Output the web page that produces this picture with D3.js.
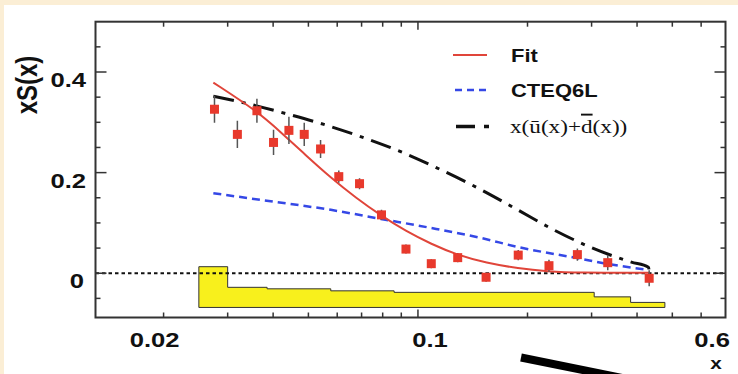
<!DOCTYPE html>
<html>
<head>
<meta charset="utf-8">
<script src="https://cdn.jsdelivr.net/npm/d3@7"></script>
<style>
  html, body { margin: 0; padding: 0; background: #fbeed5; }
  svg { display: block; }
</style>
</head>
<body>
<svg id="chart" width="738" height="374"></svg>
<script>
// Measured points (red squares) with stat errors
const ptX   = [0.0276, 0.0319, 0.0361, 0.0401, 0.0442, 0.0487, 0.0540, 0.0606, 0.0691, 0.0794, 0.0927, 0.1088, 0.1286, 0.1539, 0.1886, 0.2291, 0.2742, 0.3323, 0.4319];
const ptY   = [0.326, 0.276, 0.323, 0.260, 0.284, 0.276, 0.247, 0.192, 0.178, 0.116, 0.048, 0.019, 0.031, -0.008, 0.036, 0.015, 0.037, 0.021, -0.010];
const ptErr = [0.027, 0.027, 0.024, 0.025, 0.027, 0.023, 0.018, 0.012, 0.011, 0.010, 0.009, 0.009, 0.009, 0.009, 0.010, 0.012, 0.012, 0.015, 0.016];

// Fit curve
const fitX = [0.0274, 0.0360, 0.0419, 0.0491, 0.0576, 0.0675, 0.0794, 0.0925, 0.1088, 0.1286, 0.1539, 0.1886, 0.228, 0.274, 0.432];
const fitY = [0.379, 0.323, 0.281, 0.235, 0.190, 0.150, 0.114, 0.084, 0.058, 0.036, 0.0205, 0.0095, 0.0036, 0.001, 0.001];

// CTEQ6L
const cteqX = [0.0274, 0.0394, 0.0576, 0.0791, 0.1086, 0.1491, 0.1886, 0.2742, 0.332, 0.430];
const cteqY = [0.159, 0.143, 0.126, 0.108, 0.090, 0.070, 0.052, 0.030, 0.0185, 0.0066];

// x(ubar + dbar)
const sbarX = [0.0274, 0.0332, 0.0430, 0.0556, 0.0712, 0.0915, 0.1169, 0.1482, 0.1870, 0.2365, 0.2995, 0.3859, 0.4299, 0.432];
const sbarY = [0.352, 0.339, 0.318, 0.295, 0.269, 0.239, 0.204, 0.167, 0.127, 0.086, 0.051, 0.022, 0.012, 0.004];

// systematic error band (histogram)
const sysEdges = [0.025, 0.030, 0.0385, 0.0576, 0.086, 0.305, 0.384, 0.477];
const sysTop   = [0.013, -0.028, -0.031, -0.035, -0.038, -0.047, -0.058];
const sysBase  = -0.068;

// axes
const xLabels = [0.02, 0.1, 0.6];
const xMinor  = [0.02, 0.03, 0.04, 0.05, 0.06, 0.07, 0.08, 0.09, 0.1, 0.2, 0.3, 0.4, 0.5, 0.6];
const yLabels = [0, 0.2, 0.4];
const yMinor  = [-0.05, 0, 0.05, 0.1, 0.15, 0.2, 0.25, 0.3, 0.35, 0.4, 0.45];

const legendItems = ['Fit', 'CTEQ6L', 'sbar'];

const SANS = '"Liberation Sans", Arial, Helvetica, sans-serif';
const SERIF = '"Liberation Serif", "Times New Roman", serif';
const STRETCH = 1.22; // the source picture is stretched horizontally

const svg = d3.select('#chart');
const frame = { left: 95.5, right: 725.5, top: 21.7, bottom: 317.5 };

svg.append('rect').attr('x', 4).attr('y', 5).attr('width', 740).attr('height', 380).attr('fill', '#fff');

const x = d3.scaleLog().domain([0.013, 0.7]).range([frame.left, frame.right]);
const y = d3.scaleLinear().domain([-0.088, 0.5]).range([frame.bottom, frame.top]);

function stretchText(sel, px, py, extra) {
  return sel.attr('transform', `translate(${px},${py}) scale(${STRETCH},1)` + (extra || ''));
}

// clip for plot content
svg.append('clipPath').attr('id', 'clip').append('rect')
  .attr('x', frame.left).attr('y', frame.top)
  .attr('width', frame.right - frame.left).attr('height', frame.bottom - frame.top);
const plot = svg.append('g').attr('clip-path', 'url(#clip)');

// systematic band
const sysPts = [[sysEdges[0], sysBase]];
sysTop.forEach((t, i) => { sysPts.push([sysEdges[i], t]); sysPts.push([sysEdges[i + 1], t]); });
sysPts.push([sysEdges[sysEdges.length - 1], sysBase]);
plot.append('path')
  .attr('d', d3.line().x(d => x(d[0])).y(d => y(d[1]))(sysPts) + 'Z')
  .attr('fill', '#f8f01c').attr('stroke', '#333').attr('stroke-width', 1);

// zero line
plot.append('line')
  .attr('x1', frame.left).attr('x2', frame.right).attr('y1', y(0)).attr('y2', y(0))
  .attr('stroke', '#111').attr('stroke-width', 2.2).attr('stroke-dasharray', '3.5,3');

const line = d3.line().x(d => x(d[0])).y(d => y(d[1])).curve(d3.curveBasis);
const lineM = d3.line().x(d => x(d[0])).y(d => y(d[1])).curve(d3.curveMonotoneX);

// dash-dot x(ubar+dbar)
plot.append('path').attr('d', lineM(d3.zip(sbarX, sbarY)))
  .attr('fill', 'none').attr('stroke', '#111').attr('stroke-width', 3)
  .attr('stroke-dasharray', '21,8,4,8');

// CTEQ6L
plot.append('path').attr('d', lineM(d3.zip(cteqX, cteqY)))
  .attr('fill', 'none').attr('stroke', '#3548e6').attr('stroke-width', 2.5)
  .attr('stroke-dasharray', '8,5');

// fit
plot.append('path').attr('d', line(d3.zip(fitX, fitY)))
  .attr('fill', 'none').attr('stroke', '#e0453a').attr('stroke-width', 2);

// data points
const pts = d3.zip(ptX, ptY, ptErr);
plot.selectAll('line.err').data(pts).enter().append('line')
  .attr('class', 'err')
  .attr('x1', d => x(d[0])).attr('x2', d => x(d[0]))
  .attr('y1', d => y(d[1] + d[2])).attr('y2', d => y(d[1] - d[2]))
  .attr('stroke', '#555').attr('stroke-width', 1.5);
plot.selectAll('rect.pt').data(pts).enter().append('rect')
  .attr('class', 'pt')
  .attr('x', d => x(d[0]) - 4.5).attr('y', d => y(d[1]) - 4.5)
  .attr('width', 9).attr('height', 9)
  .attr('fill', '#e8392c');

// frame and ticks
const axis = svg.append('g').attr('stroke', '#333').attr('stroke-width', 1.5);
axis.append('rect')
  .attr('x', frame.left).attr('y', frame.top)
  .attr('width', frame.right - frame.left).attr('height', frame.bottom - frame.top)
  .attr('fill', 'none').attr('stroke-width', 2);

const xLen = v => (Math.abs(v - 0.1) < 1e-9 ? 8 : 5);
xMinor.forEach(v => {
  axis.append('line').attr('x1', x(v)).attr('x2', x(v)).attr('y1', frame.bottom).attr('y2', frame.bottom - xLen(v));
  axis.append('line').attr('x1', x(v)).attr('x2', x(v)).attr('y1', frame.top).attr('y2', frame.top + xLen(v));
});
const yLen = v => (yLabels.some(l => Math.abs(l - v) < 1e-9) ? 11 : 5);
yMinor.forEach(v => {
  axis.append('line').attr('y1', y(v)).attr('y2', y(v)).attr('x1', frame.left).attr('x2', frame.left + yLen(v));
  axis.append('line').attr('y1', y(v)).attr('y2', y(v)).attr('x1', frame.right).attr('x2', frame.right - yLen(v));
});

// tick labels
const labelNudge = { 0.02: -9, 0.1: 12, 0.6: 11 };
xLabels.forEach(v => {
  stretchText(svg.append('text'), x(v) + (labelNudge[v] || 0), 347)
    .attr('text-anchor', 'middle')
    .attr('font-family', SANS).attr('font-weight', 'bold').attr('font-size', 21)
    .attr('fill', '#111')
    .text(String(v));
});
yLabels.forEach(v => {
  stretchText(svg.append('text'), v === 0 ? 84 : 86, y(v) + 15)
    .attr('text-anchor', 'end')
    .attr('font-family', SANS).attr('font-weight', 'bold').attr('font-size', 21)
    .attr('fill', '#111')
    .text(String(v));
});

// axis titles
stretchText(svg.append('text'), 716, 369)
  .attr('text-anchor', 'middle')
  .attr('font-family', SANS).attr('font-weight', 'bold').attr('font-size', 17)
  .attr('fill', '#111').text('x');
stretchText(svg.append('text'), 37, 85, ' rotate(-90)')
  .attr('text-anchor', 'middle')
  .attr('font-family', SANS).attr('font-weight', 'bold').attr('font-size', 24)
  .attr('fill', '#111').text('xS(x)');

// legend
const leg = svg.append('g');
const rowY = [55, 90, 126.5];
leg.append('line').attr('x1', 453).attr('x2', 487).attr('y1', rowY[0]).attr('y2', rowY[0])
  .attr('stroke', '#e0453a').attr('stroke-width', 2);
leg.append('line').attr('x1', 455).attr('x2', 487).attr('y1', rowY[1]).attr('y2', rowY[1])
  .attr('stroke', '#3548e6').attr('stroke-width', 2.5).attr('stroke-dasharray', '7,5');
leg.append('line').attr('x1', 456).attr('x2', 490).attr('y1', rowY[2]).attr('y2', rowY[2])
  .attr('stroke', '#111').attr('stroke-width', 3.5).attr('stroke-dasharray', '19,9,5,20');

legendItems.slice(0, 2).forEach((t, i) => {
  stretchText(leg.append('text'), 511, rowY[i] + 7)
    .attr('font-family', SANS).attr('font-weight', 'bold').attr('font-size', 18)
    .attr('fill', '#111').text(t);
});
const t3 = stretchText(leg.append('text'), 510, rowY[2] + 6)
  .attr('font-family', SERIF).attr('font-size', 19).attr('fill', '#111');
t3.append('tspan').text('x(\u016B(x)+');
t3.append('tspan').attr('text-decoration', 'overline').text('d');
t3.append('tspan').text('(x))');

// thick black stroke from the slide below the chart
svg.append('line').attr('x1', 521).attr('y1', 357.5).attr('x2', 642).attr('y2', 382)
  .attr('stroke', '#000').attr('stroke-width', 8);
</script>
</body>
</html>
